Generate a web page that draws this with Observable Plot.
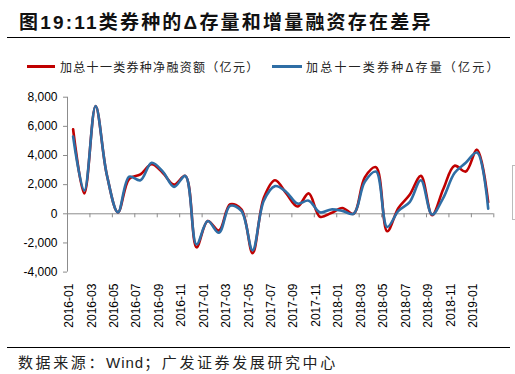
<!DOCTYPE html>
<html><head><meta charset="utf-8">
<script src="https://cdn.jsdelivr.net/npm/d3@7"></script>
<script src="https://cdn.jsdelivr.net/npm/@observablehq/plot@0.6"></script>
<style>
html,body{margin:0;padding:0;background:#fff;width:515px;height:374px;overflow:hidden;position:relative;font-family:"Liberation Sans","Noto Sans CJK SC",sans-serif;}
.abs{position:absolute;white-space:nowrap;}
#title{left:19px;top:7px;font-size:19px;font-weight:bold;letter-spacing:2.2px;font-family:"Liberation Sans","Noto Sans CJK SC",sans-serif;color:#111;}
#titleRule{left:7px;top:37px;width:503px;height:0;border-top:1px solid #000;}
#footRule{left:7px;top:347px;width:503px;height:0;border-top:1px solid #000;}
#foot{left:18px;top:351px;font-size:15px;letter-spacing:2.6px;color:#222;font-family:"Liberation Sans","Noto Sans CJK SC",sans-serif;}
#foot .w{letter-spacing:1px;}
.leg{top:58px;font-size:12px;color:#222;font-family:"Noto Sans CJK SC",sans-serif;}
.sw{position:absolute;height:3px;}
#chart{position:absolute;left:0;top:80px;}
#bracket{left:512px;top:165px;width:4px;height:53px;border-left:1px solid #bbb;border-top:1px solid #bbb;border-bottom:1px solid #bbb;}
</style></head>
<body>
<div id="title" class="abs">图19:11类券种的Δ存量和增量融资存在差异</div>
<div id="titleRule" class="abs"></div>
<div class="sw" style="left:27px;top:65px;width:28px;background:#C00000"></div>
<div class="abs leg" style="left:60px;letter-spacing:1.3px">加总十一类券种净融资额（亿元）</div>
<div class="sw" style="left:272px;top:65px;width:30px;background:#2F6EA5"></div>
<div class="abs leg" style="left:306px;letter-spacing:2.2px">加总十一类券种Δ存量（亿元）</div>
<div id="chart"></div>
<div id="bracket" class="abs"></div>
<div id="footRule" class="abs"></div>
<div id="foot" class="abs">数据来源：<span class="w">Wind</span>；广发证券发展研究中心</div>
<script>
const months = ["2016-01","2016-02","2016-03","2016-04","2016-05","2016-06","2016-07","2016-08","2016-09","2016-10","2016-11","2016-12",
"2017-01","2017-02","2017-03","2017-04","2017-05","2017-06","2017-07","2017-08","2017-09","2017-10","2017-11","2017-12",
"2018-01","2018-02","2018-03","2018-04","2018-05","2018-06","2018-07","2018-08","2018-09","2018-10","2018-11","2018-12",
"2019-01","2019-02"];
const netFinancing = [5800,1400,7400,2700,100,2400,2700,3400,2800,2000,2600,-2300,
-500,-1150,650,300,-2700,1100,2300,1400,500,1400,-200,50,
400,0,2500,3200,-1200,400,1300,2600,-100,1700,3300,2900,
4400,800];
const deltaStock = [5300,1600,7400,2700,100,2550,2300,3500,2900,1850,2600,-2100,
-500,-1300,550,200,-2500,900,1900,1500,700,900,100,300,
200,0,2200,2900,-900,200,800,2300,-50,1100,2800,3500,
4200,350];
const yTicks = [-4000,-2000,0,2000,4000,6000,8000];
const seriesNames = ["加总十一类券种净融资额（亿元）","加总十一类券种Δ存量（亿元）"];
const seriesColors = ["#C00000","#2F6EA5"];

const redData = netFinancing.map((v,i)=>({i, v, s: seriesNames[0]}));
const blueData = deltaStock.map((v,i)=>({i, v, s: seriesNames[1]}));
const labelIdx = months.map((m,i)=>i).filter(i=>i%2===0 && i<37);
const boundaries = months.map((m,i)=>i+0.5).filter((b,k)=>k%2===1);
const fmt = d => d3.format(",")(d).replace("−","-");
const gray = "#8c8c8c";

const plot = Plot.plot({
  width: 515,
  height: 260,
  marginLeft: 67,
  marginRight: 21.7,
  marginTop: 16.7,
  marginBottom: 68.4,
  style: {fontFamily: "'Liberation Sans', Arial, sans-serif", fontSize: "12px", color: "#000", background: "transparent"},
  x: {type: "linear", domain: [-0.5, 37.5], axis: null},
  y: {domain: [-4000, 8000], axis: null},
  marks: [
    Plot.ruleX([-0.5], {y1: -4000, y2: 8000, stroke: gray}),
    Plot.ruleY(yTicks, {y: d=>d, x1: -0.5 - 4/11.22, x2: -0.5, stroke: gray}),
    Plot.text(yTicks, {y: d=>d, x: -0.5, text: d=>fmt(d), textAnchor: "end", dx: -10, fill: "#000", fontSize: 12}),
    Plot.ruleY([0], {x1: -0.5, x2: 37.5, stroke: gray}),
    Plot.ruleX(boundaries, {x: d=>d, y1: 0, y2: -275, stroke: gray}),
    Plot.text(labelIdx, {x: d=>d, frameAnchor: "bottom", text: d=>months[d], rotate: -90, textAnchor: "end", dy: 11.5, fill: "#000", fontSize: 12}),
    Plot.line(redData, {x: "i", y: "v", stroke: seriesColors[0], strokeWidth: 2.6, curve: "catmull-rom"}),
    Plot.line(blueData, {x: "i", y: "v", stroke: seriesColors[1], strokeWidth: 2.6, curve: "catmull-rom"})
  ]
});
document.getElementById("chart").appendChild(plot);
</script>
</body></html>
